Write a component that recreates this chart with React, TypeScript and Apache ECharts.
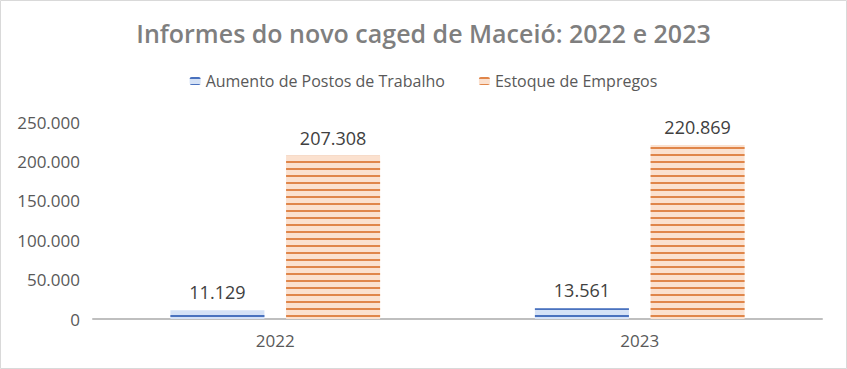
import React, { useEffect, useRef } from "react";
import * as echarts from "echarts";

const categories = ["2022", "2023"];
const aumentoPostos = [11129, 13561];
const estoqueEmpregos = [207308, 220869];
const seriesNames = ["Aumento de Postos de Trabalho", "Estoque de Empregos"];
const titleText = "Informes do novo caged de Maceió: 2022 e 2023";

const fmt = (v: number) => String(Math.round(v)).replace(/\B(?=(\d{3})+(?!\d))/g, ".");

export default function App() {
  const ref = useRef<HTMLDivElement>(null);
  useEffect(() => {
    if (!ref.current) return;
    const chart = echarts.init(ref.current, undefined, { renderer: "svg" });
    const font = "Open Sans";
    chart.setOption({
      animation: false,
      backgroundColor: "#ffffff",
      textStyle: { fontFamily: font },
      title: {
        text: titleText,
        left: "center",
        top: 15,
        textStyle: { fontSize: 25, fontWeight: 600, color: "#7f7f7f", fontFamily: font },
      },
      legend: {
        top: 68,
        left: "center",
        itemGap: 34,
        itemWidth: 11,
        itemHeight: 8,
        textStyle: { fontSize: 16, color: "#595959", fontFamily: font },
        data: seriesNames,
      },
      grid: { left: 93, right: 25, top: 122, bottom: 50, containLabel: false },
      xAxis: {
        type: "category",
        data: categories,
        axisLine: { lineStyle: { color: "#bfbfbf", width: 2 } },
        axisTick: { show: false },
        axisLabel: { fontSize: 17, color: "#595959", margin: 13, fontFamily: font },
      },
      yAxis: {
        type: "value",
        min: 0,
        max: 250000,
        interval: 50000,
        splitLine: { show: false },
        axisLine: { show: false },
        axisTick: { show: false },
        axisLabel: { fontSize: 17, color: "#595959", margin: 13, formatter: fmt, fontFamily: font },
      },
      series: [
        {
          name: seriesNames[0],
          type: "bar",
          data: aumentoPostos,
          barWidth: "25.8%",
          barGap: "23%",
          itemStyle: {
            color: "#d5e2f6",
            decal: {
              symbol: "rect",
              symbolSize: 1,
              dashArrayX: [1, 0],
              dashArrayY: [2, 4.3],
              color: "#4a72be",
              rotation: 0,
            },
          },
          label: {
            show: true,
            position: "top",
            distance: 9,
            fontSize: 18,
            color: "#404040",
            formatter: (p: any) => fmt(p.value),
            fontFamily: font,
          },
        },
        {
          name: seriesNames[1],
          type: "bar",
          data: estoqueEmpregos,
          barWidth: "25.8%",
          itemStyle: {
            color: "#fbe1cf",
            decal: {
              symbol: "rect",
              symbolSize: 1,
              dashArrayX: [1, 0],
              dashArrayY: [2, 4.3],
              color: "#e0864a",
              rotation: 0,
            },
          },
          label: {
            show: true,
            position: "top",
            distance: 9,
            fontSize: 18,
            color: "#404040",
            formatter: (p: any) => fmt(p.value),
            fontFamily: font,
          },
        },
      ],
      graphic: [
        {
          type: "rect",
          shape: { x: 0.5, y: 0.5, width: 846, height: 368 },
          style: { fill: "none", stroke: "#d9d9d9", lineWidth: 1 },
          silent: true,
          z: 100,
        },
      ],
    });
    return () => chart.dispose();
  }, []);
  return (
    <div
      ref={ref}
      style={{ position: "fixed", left: 0, top: 0, width: 847, height: 369 }}
    />
  );
}
